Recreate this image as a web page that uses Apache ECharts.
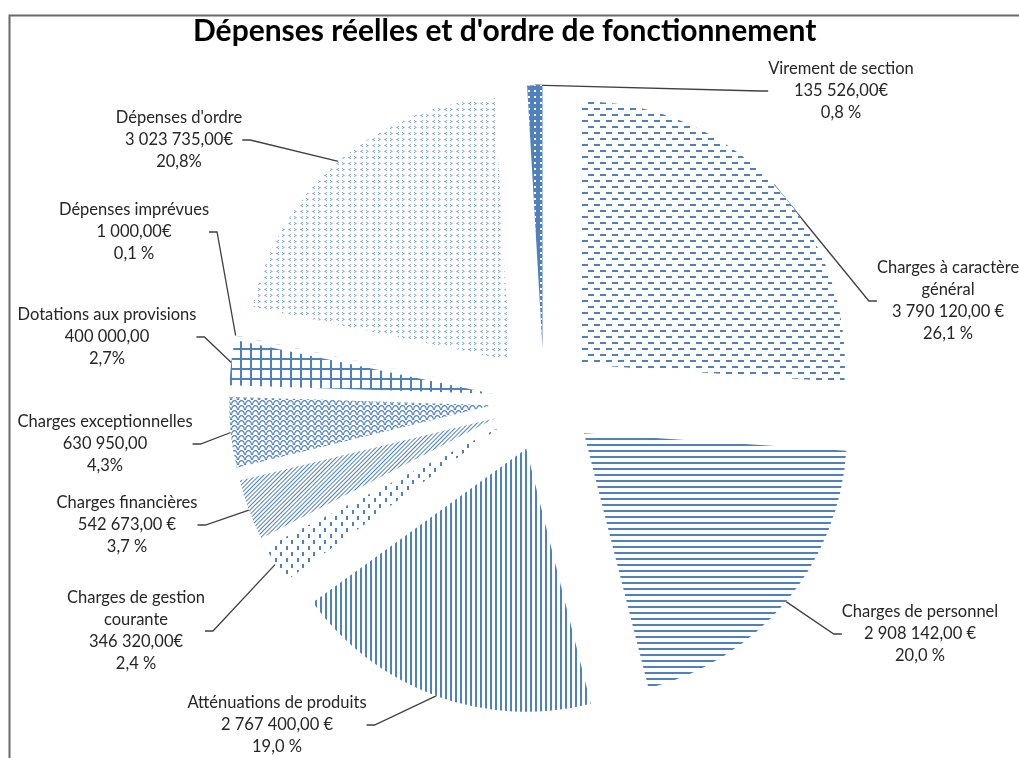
<!DOCTYPE html>
<html>
<head>
<meta charset="utf-8">
<script src="https://cdn.jsdelivr.net/npm/echarts@6/dist/echarts.min.js"></script>
<style>
  html, body { margin: 0; padding: 0; background: #fff; }
  #chart { width: 1019px; height: 758px; }
</style>
</head>
<body>
<div id="chart"></div>
<script>
// catégories, dans l'ordre horaire depuis midi
const categories = [
  'Charges à caractère\ngénéral',
  'Charges de personnel',
  'Atténuations de produits',
  'Charges de gestion\ncourante',
  'Charges financières',
  'Charges exceptionnelles',
  'Dotations aux provisions',
  'Dépenses imprévues',
  "Dépenses d'ordre",
  'Virement de section'
];
const values = [3790120, 2908142, 2767400, 346320, 542673, 630950, 400000, 1000, 3023735, 135526];
// pourcentages tels qu'affichés
const percentLabels = ['26,1 %', '20,0 %', '19,0 %', '2,4 %', '3,7 %', '4,3%', '2,7%', '0,1 %', '20,8%', '0,8 %'];
const units = [' €', ' €', ' €', '€', ' €', '', '', '€', '€', '€'];

const blue = '#4F81BD';

function fmt(v) {
  const parts = v.toFixed(2).split('.');
  return parts[0].replace(/\B(?=(\d{3})+(?!\d))/g, ' ') + ',' + parts[1];
}

// motifs (hachures) de chaque part
const decals = [
  { symbol: 'rect', symbolKeepAspect: false,
    dashArrayX: [[5.3, 5.4, 5.3, 5.4, 5.3, 5.3], [0, 5.3, 5.4, 5.3, 5.4, 5.3, 5.3, 0]],
    dashArrayY: [1.5, 3.8, 1.5, 3.8, 1.5, 3.9], color: blue },
  { symbol: 'rect', symbolKeepAspect: false, dashArrayX: [1, 0], dashArrayY: [1.6, 3.7, 1.6, 3.7, 1.6, 3.8], color: blue },
  { symbol: 'rect', symbolKeepAspect: false, dashArrayX: [1.2, 2.1, 1.2, 2.1, 1.2, 2.2], dashArrayY: [1, 0], color: blue },
  { symbol: 'rect', symbolKeepAspect: false, dashArrayX: [[1.5, 8.5], [0, 5, 1.5, 3.5]], dashArrayY: [4, 2], color: blue },
  { symbol: 'rect', symbolKeepAspect: false, dashArrayX: [1, 0], dashArrayY: [1, 2], rotation: -Math.PI / 4, color: blue },
  { symbol: 'path://M0,10 C0,0 10,0 10,10 L8.4,10 C8.4,2.5 1.6,2.5 1.6,10 Z', symbolKeepAspect: false,
    dashArrayX: [7, 0], dashArrayY: [5, 0], color: blue },
  { symbol: 'rect', symbolKeepAspect: false, dashArrayX: [[1, 0], [2, 8], [2, 8], [2, 8], [2, 8]], dashArrayY: [2, 0], color: blue },
  { symbol: 'rect', symbolKeepAspect: false, dashArrayX: [1, 0], dashArrayY: [1, 3], color: blue },
  { symbol: ['path://M10,0 L0,5 L10,10 L10,7.5 L4,5 L10,2.5 Z', 'path://M0,0 L10,5 L0,10 L0,7.5 L6,5 L0,2.5 Z'],
    symbolKeepAspect: false, dashArrayX: [3, 3], dashArrayY: [3, 2.5], color: '#5f8cc8' },
  { symbol: 'rect', symbolKeepAspect: false, dashArrayX: [1.2, 3.8], dashArrayY: [1.2, 3.8], color: '#fff' }
];

// position des étiquettes (centre horizontal, haut du bloc), placées à la main comme dans Excel
const labelSpots = [
  [948, 257], [920, 601], [277, 692], [136, 587], [127, 492],
  [105, 411], [107, 304], [134, 199], [179, 107], [841, 58]
];

const pieCenter = [544, 400];
const pieRadius = 263;
const explode = 52; // éclatement des parts

// angle médian de chaque part (sens horaire depuis midi)
const total = values.reduce((a, b) => a + b, 0);
let acc = 0;
const midAngles = values.map(v => {
  const m = (acc + v / 2) / total * 2 * Math.PI;
  acc += v;
  return m;
});

const chart = echarts.init(document.getElementById('chart'));

// une série par part, pour pouvoir l'éclater
const series = categories.map((name, i) => ({
  type: 'pie',
  silent: true,
  center: [
    pieCenter[0] + explode * Math.sin(midAngles[i]),
    pieCenter[1] - explode * Math.cos(midAngles[i])
  ],
  radius: pieRadius,
  startAngle: 90,
  clockwise: true,
  avoidLabelOverlap: false,
  label: {
    position: 'outside',
    fontFamily: 'Lato',
    fontSize: 16.5,
    lineHeight: 22,
    color: '#262626',
    align: 'center',
    formatter: p => p.name + '\n' + fmt(values[p.dataIndex]) + units[p.dataIndex] + '\n' + percentLabels[p.dataIndex]
  },
  labelLine: {
    length: 20,
    length2: 8,
    lineStyle: { color: '#404040', width: 1.3 }
  },
  labelLayout: function (params) {
    const s = labelSpots[params.dataIndex];
    return { x: s[0], y: s[1], align: 'center', verticalAlign: 'top' };
  },
  emphasis: { disabled: true },
  data: categories.map((c, j) => ({
    name: c,
    value: values[j],
    label: { show: j === i },
    labelLine: { show: j === i },
    itemStyle: j === i
      ? { color: i === 9 ? blue : '#fff', borderWidth: 0, decal: decals[i] }
      : { color: 'rgba(0,0,0,0)', borderWidth: 0 }
  }))
}));

const option = {
  animation: false,
  title: {
    text: "Dépenses réelles et d'ordre de fonctionnement",
    left: 188,
    top: 11,
    textStyle: { fontFamily: 'Lato', fontWeight: 'bold', fontSize: 30, color: '#000' }
  },
  graphic: [
    {
      // cadre de la zone de graphique (coupé à droite et en bas)
      type: 'rect', left: 7, top: 13, silent: true,
      shape: { width: 1100, height: 800 },
      style: { fill: 'none', stroke: '#6a6a6a', lineWidth: 2 }
    }
  ],
  series: series
};

chart.setOption(option);
</script>
</body>
</html>
